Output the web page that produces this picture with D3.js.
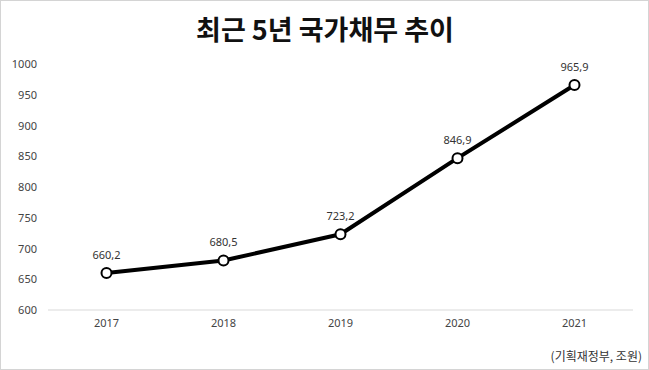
<!DOCTYPE html>
<html>
<head>
<meta charset="utf-8">
<style>
body { margin: 0; background: #fff; }
svg { display: block; font-family: 'Noto Sans CJK KR', 'Noto Sans', sans-serif; }
.axis .domain { display: none; }
.axis line { display: none; }
</style>
</head>
<body>
<svg width="649" height="370"></svg>
<script src="https://d3js.org/d3.v7.min.js"></script>
<script>
// data
var years = ["2017", "2018", "2019", "2020", "2021"];
var debt = [660.2, 680.5, 723.2, 846.9, 965.9];
var yTicks = [600, 650, 700, 750, 800, 850, 900, 950, 1000];

var svg = d3.select("svg"),
    margin = {top: 64, right: 16, bottom: 60, left: 48},
    width = +svg.attr("width") - margin.left - margin.right,
    height = +svg.attr("height") - margin.top - margin.bottom;

// frame
svg.append("rect")
    .attr("x", 0.5).attr("y", 0.5)
    .attr("width", 648).attr("height", 369)
    .attr("fill", "#fff")
    .attr("stroke", "#d4d4d4");

svg.append("text")
    .attr("x", 325)
    .attr("y", 40)
    .attr("text-anchor", "middle")
    .attr("font-size", 27)
    .attr("font-weight", "bold")
    .attr("fill", "#111")
    .text("최근 5년 국가채무 추이");

var g = svg.append("g").attr("transform", "translate(" + margin.left + "," + margin.top + ")");

var x = d3.scaleBand().domain(years).range([0, width]);
var y = d3.scaleLinear().domain([600, 1000]).range([height, 0]);

// baseline
g.append("line")
    .attr("x1", 0).attr("x2", width)
    .attr("y1", y(600)).attr("y2", y(600))
    .attr("stroke", "#d9d9d9");

g.append("g")
    .attr("class", "axis")
    .call(d3.axisLeft(y).tickValues(yTicks).tickFormat(d3.format("d")).tickSize(0).tickPadding(11))
    .selectAll("text")
    .attr("font-size", 11)
    .attr("fill", "#444")
    .attr("font-family", "'Noto Sans', sans-serif");

g.append("g")
    .attr("class", "axis")
    .attr("transform", "translate(0," + height + ")")
    .call(d3.axisBottom(x).tickSize(0).tickPadding(9))
    .selectAll("text")
    .attr("font-size", 11)
    .attr("fill", "#444")
    .attr("font-family", "'Noto Sans', sans-serif");

var cx = function(d, i) { return x(years[i]) + x.bandwidth() / 2; };

g.append("path")
    .datum(debt)
    .attr("fill", "none")
    .attr("stroke", "#000")
    .attr("stroke-width", 4)
    .attr("stroke-linejoin", "round")
    .attr("d", d3.line().x(cx).y(function(d) { return y(d); }));

g.selectAll("circle")
    .data(debt)
    .enter().append("circle")
    .attr("cx", cx)
    .attr("cy", function(d) { return y(d); })
    .attr("r", 5)
    .attr("fill", "#fff")
    .attr("stroke", "#000")
    .attr("stroke-width", 2);

g.selectAll(".val")
    .data(debt)
    .enter().append("text")
    .attr("class", "val")
    .attr("x", cx)
    .attr("y", function(d) { return y(d) - 14; })
    .attr("text-anchor", "middle")
    .attr("font-size", 11)
    .attr("fill", "#333")
    .attr("font-family", "'Noto Sans', sans-serif")
    .text(function(d) { return d.toFixed(1).replace(".", ","); });

svg.append("text")
    .attr("x", 642)
    .attr("y", 361)
    .attr("text-anchor", "end")
    .attr("font-size", 12)
    .attr("fill", "#333")
    .text("(기획재정부, 조원)");
</script>
</body>
</html>
